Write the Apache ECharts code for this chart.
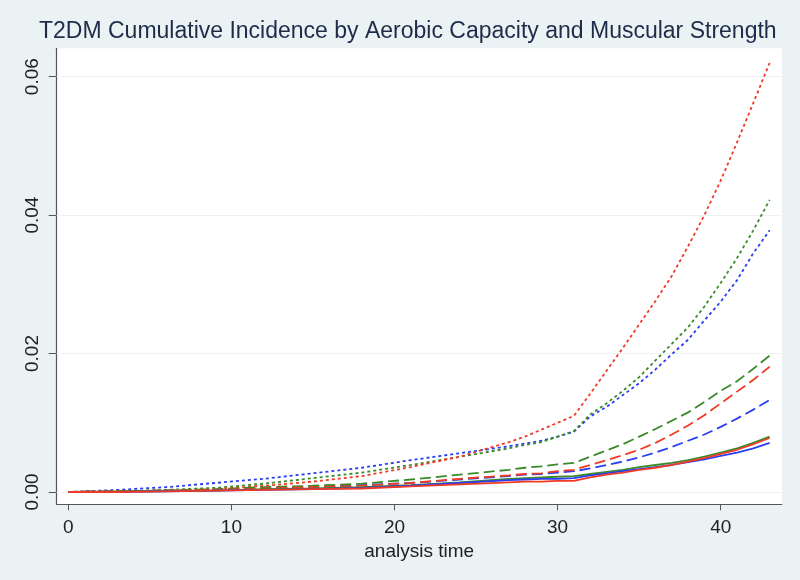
<!DOCTYPE html>
<html><head><meta charset="utf-8">
<script src="https://cdn.jsdelivr.net/npm/echarts@6/dist/echarts.min.js"></script>
<style>html,body{margin:0;padding:0;background:#eaf2f3;}#c{width:800px;height:580px;}</style>
</head><body><div id="c"></div>
<script>
const titleText = "T2DM Cumulative Incidence by Aerobic Capacity and Muscular Strength";
const xTitle = "analysis time";
const xTicks = [0, 10, 20, 30, 40];
const yTicks = [0, 0.02, 0.04, 0.06];
const times = [0, 3, 6, 9, 12, 15, 18, 21, 24, 27, 28, 29, 30, 31, 32, 33, 34, 35, 36, 37, 38, 39, 40, 41, 42, 43];

// short-dash (dotted) series
const blueShort  = [0, 0.0003, 0.0007, 0.0013, 0.0019, 0.0027, 0.0035, 0.0046, 0.0056, 0.0066, 0.0070, 0.0074, 0.0080, 0.0087, 0.0109, 0.0123, 0.0140, 0.0157, 0.0177, 0.0199, 0.0220, 0.0248, 0.0275, 0.0306, 0.0345, 0.0378];
const greenShort = [0, 0.0001, 0.0003, 0.0006, 0.0012, 0.0020, 0.0028, 0.0039, 0.0051, 0.0063, 0.0068, 0.0072, 0.0080, 0.0088, 0.0112, 0.0128, 0.0146, 0.0166, 0.0190, 0.0214, 0.0238, 0.0268, 0.0302, 0.0338, 0.0378, 0.0422];
const redShort   = [0, 0.0001, 0.0002, 0.0004, 0.0009, 0.0015, 0.0023, 0.0036, 0.0051, 0.0072, 0.0080, 0.0090, 0.0100, 0.0110, 0.0142, 0.0175, 0.0208, 0.0242, 0.0276, 0.0312, 0.0355, 0.0400, 0.0450, 0.0505, 0.0562, 0.0620];
// long-dash series
const blueLong  = [0, 0.0001, 0.0002, 0.0003, 0.0005, 0.0007, 0.0010, 0.0013, 0.0018, 0.0023, 0.0025, 0.0026, 0.0028, 0.0030, 0.0034, 0.0039, 0.0044, 0.0050, 0.0057, 0.0065, 0.0074, 0.0083, 0.0094, 0.0106, 0.0119, 0.0133];
const greenLong = [0, 0.0001, 0.0002, 0.0004, 0.0007, 0.0009, 0.0012, 0.0018, 0.0025, 0.0032, 0.0035, 0.0037, 0.0040, 0.0042, 0.0051, 0.0060, 0.0069, 0.0080, 0.0091, 0.0103, 0.0115, 0.0130, 0.0146, 0.0160, 0.0178, 0.0197];
const redLong   = [0, 0.0001, 0.0002, 0.0003, 0.0005, 0.0007, 0.0009, 0.0013, 0.0019, 0.0024, 0.0026, 0.0027, 0.0030, 0.0032, 0.0039, 0.0046, 0.0053, 0.0061, 0.0071, 0.0083, 0.0096, 0.0111, 0.0128, 0.0145, 0.0162, 0.0181];
// solid series
const blueSolid  = [0, 0.0000, 0.0001, 0.0002, 0.0003, 0.0004, 0.0006, 0.0009, 0.0013, 0.0017, 0.0018, 0.0019, 0.0019, 0.0020, 0.0024, 0.0027, 0.0030, 0.0033, 0.0036, 0.0039, 0.0043, 0.0047, 0.0052, 0.0057, 0.0063, 0.0071];
const greenSolid = [0, 0.0001, 0.0002, 0.0002, 0.0004, 0.0005, 0.0007, 0.0010, 0.0014, 0.0019, 0.0020, 0.0021, 0.0022, 0.0023, 0.0026, 0.0029, 0.0032, 0.0036, 0.0039, 0.0042, 0.0046, 0.0051, 0.0057, 0.0063, 0.0071, 0.0080];
const redSolid   = [0, 0.0000, 0.0001, 0.0002, 0.0003, 0.0004, 0.0005, 0.0008, 0.0011, 0.0014, 0.0015, 0.0015, 0.0016, 0.0016, 0.0021, 0.0025, 0.0028, 0.0032, 0.0035, 0.0039, 0.0044, 0.0049, 0.0055, 0.0061, 0.0069, 0.0078];

const BLUE = '#2a3ff0', GREEN = '#3a8a2a', RED = '#f03a25';
const SHORT = [3, 3], LONG = [11, 5];
const FONT = 'Liberation Sans, Arial, sans-serif';

function mk(vals, color, dash, width) {
  return {
    type: 'line', symbol: 'none', smooth: false, animation: false,
    data: times.map((t, i) => [t, vals[i]]),
    lineStyle: { color: color, width: width, type: dash },
    z: 2
  };
}

const chart = echarts.init(document.getElementById('c'), null, { renderer: 'canvas' });
chart.setOption({
  backgroundColor: '#eaf2f3',
  animation: false,
  title: {
    text: titleText, left: 34, top: 15,
    textStyle: { fontFamily: FONT, fontSize: 23, fontWeight: 'normal', color: '#1e2c4a' }
  },
  grid: { left: 56.7, right: 18.3, top: 48.3, bottom: 75.7, show: true, backgroundColor: '#ffffff', borderWidth: 0 },
  xAxis: {
    type: 'value', min: -0.71, max: 43.74,
    name: xTitle, nameLocation: 'middle', nameGap: 31,
    nameTextStyle: { fontFamily: FONT, fontSize: 19, color: '#222' },
    axisLine: { show: true, onZero: false, lineStyle: { color: '#555', width: 1.2 } },
    axisTick: { show: true, length: 6, customValues: xTicks, lineStyle: { color: '#555' } },
    axisLabel: { customValues: xTicks, margin: 14, fontFamily: FONT, fontSize: 19, color: '#222' },
    splitLine: { show: false }
  },
  yAxis: {
    type: 'value', min: -0.00178, max: 0.0641,
    axisLine: { show: true, onZero: false, lineStyle: { color: '#555', width: 1.2 } },
    axisTick: { show: true, length: 8, customValues: yTicks, lineStyle: { color: '#555' } },
    axisLabel: { customValues: yTicks, rotate: 90, margin: 14, fontFamily: FONT, fontSize: 19, color: '#222',
      formatter: v => v.toFixed(2) },
    splitLine: { show: false }
  },
  series: [
    Object.assign(mk(blueShort, BLUE, SHORT, 1.8), {
      markLine: { silent: true, symbol: 'none', label: { show: false },
        lineStyle: { color: '#eef2f3', width: 1, type: 'solid' },
        data: yTicks.map(v => ({ yAxis: v })), z: 1 }
    }),
    mk(greenShort, GREEN, SHORT, 1.8),
    mk(redShort, RED, SHORT, 1.8),
    mk(blueLong, BLUE, LONG, 1.8),
    mk(greenLong, GREEN, LONG, 1.8),
    mk(redLong, RED, LONG, 1.8),
    mk(greenSolid, GREEN, 'solid', 1.8),
    mk(blueSolid, BLUE, 'solid', 1.8),
    mk(redSolid, RED, 'solid', 1.8)
  ]
});
</script></body></html>
